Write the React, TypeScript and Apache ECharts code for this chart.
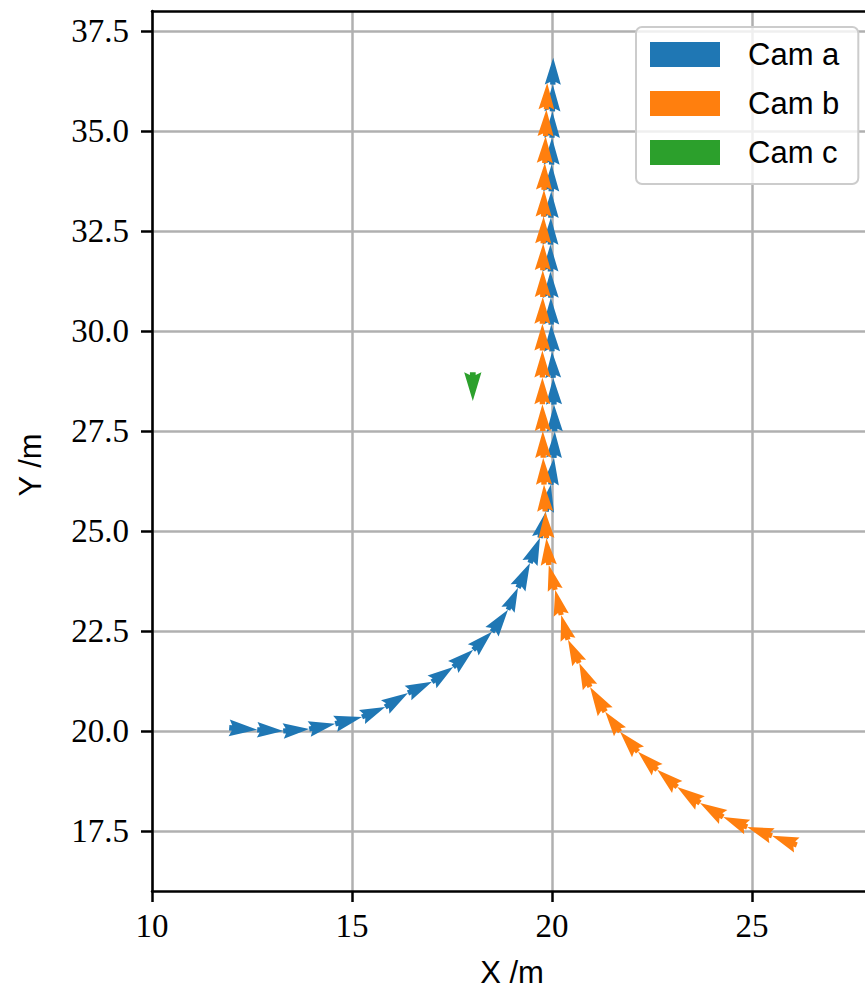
import React, { useEffect, useRef } from "react";
import * as echarts from "echarts";

// Camera trajectories: successive positions; each arrow runs from one position to the next.
const camAX = [11.93, 12.63, 13.28, 13.93, 14.58, 15.25, 15.83, 16.4, 17.0, 17.53, 18.03, 18.5, 18.9, 19.15, 19.45, 19.7, 19.85, 19.97, 20.05, 20.07, 20.05, 20.03, 20.0, 19.98, 19.97, 19.96, 19.96, 19.97, 19.98, 19.99, 20.0, 20.01, 20.02, 20.03];
const camAY = [20.08, 20.03, 20.0, 20.05, 20.18, 20.35, 20.6, 20.95, 21.23, 21.6, 22.03, 22.48, 23.03, 23.58, 24.2, 24.83, 25.49, 26.16, 26.83, 27.49, 28.16, 28.83, 29.49, 30.16, 30.83, 31.49, 32.16, 32.83, 33.49, 34.16, 34.83, 35.49, 36.16, 36.83];

const camBX = [26.12, 25.5, 24.88, 24.28, 23.7, 23.13, 22.63, 22.15, 21.7, 21.33, 20.95, 20.68, 20.4, 20.23, 20.08, 19.92, 19.86, 19.83, 19.8, 19.78, 19.77, 19.76, 19.76, 19.76, 19.76, 19.77, 19.77, 19.78, 19.79, 19.8, 19.82, 19.84, 19.86, 19.88];
const camBY = [17.15, 17.38, 17.6, 17.85, 18.2, 18.6, 19.03, 19.48, 19.98, 20.48, 21.1, 21.7, 22.28, 22.9, 23.53, 24.15, 24.82, 25.49, 26.16, 26.83, 27.5, 28.17, 28.84, 29.51, 30.18, 30.85, 31.52, 32.19, 32.86, 33.53, 34.2, 34.87, 35.54, 36.2];

const camCX = [18.02, 18.02];
const camCY = [28.97, 28.25];

const seriesNames = ["Cam a", "Cam b", "Cam c"];
const seriesColors = ["#1f77b4", "#ff7f0e", "#2ca02c"];

const xTicks = [10, 15, 20, 25];
const yTicks = [17.5, 20, 22.5, 25, 27.5, 30, 32.5, 35, 37.5];

const SERIF = "'Liberation Serif', 'DejaVu Serif', serif";
const SANS = "'Liberation Sans', 'DejaVu Sans', sans-serif";

// rows of [x0, y0, x1, y1]: tail and tip of each arrow
function arrowRows(xs: number[], ys: number[]) {
  const rows: number[][] = [];
  for (let i = 0; i < xs.length - 1; i++) rows.push([xs[i], ys[i], xs[i + 1], ys[i + 1]]);
  return rows;
}

// short quiver arrow: notched head with a small stub, scaled with its length
const ARROW_SHAPE = [
  [0, 0.5],
  [0.5, 0.5],
  [0, 1.5],
  [5, 0],
  [0, -1.5],
  [0.5, -0.5],
  [0, -0.5],
];

function renderArrow(_params: any, api: any) {
  const p0 = api.coord([api.value(0), api.value(1)]);
  const p1 = api.coord([api.value(2), api.value(3)]);
  const dx = p1[0] - p0[0];
  const dy = p1[1] - p0[1];
  const len = Math.hypot(dx, dy) || 1;
  const ux = dx / len;
  const uy = dy / len;
  const nx = -uy;
  const ny = ux;
  const s = len / 5;
  const points = ARROW_SHAPE.map(([a, b]) => [
    p0[0] + (a * ux + b * nx) * s,
    p0[1] + (a * uy + b * ny) * s,
  ]);
  return {
    type: "polygon",
    shape: { points },
    style: { fill: api.visual("color") },
  };
}

export default function App() {
  const ref = useRef<HTMLDivElement>(null);

  useEffect(() => {
    if (!ref.current) return;
    const chart = echarts.init(ref.current, undefined, { renderer: "svg" });
    const spine = { color: "#000", width: 2.5 };
    const gridLine = { color: "#b0b0b0", width: 2.5 };
    const tracks = [
      arrowRows(camAX, camAY),
      arrowRows(camBX, camBY),
      arrowRows(camCX, camCY),
    ];

    chart.setOption({
      animation: false,
      backgroundColor: "#fff",
      grid: { left: 152, top: 11, width: 713, height: 880 },
      xAxis: [
        {
          type: "value",
          min: 10,
          max: 27.825,
          position: "bottom",
          axisLine: { show: true, onZero: false, lineStyle: spine },
          axisTick: { show: true, length: 11, lineStyle: spine, customValues: xTicks },
          axisLabel: {
            customValues: xTicks,
            margin: 18,
            color: "#000",
            fontFamily: SERIF,
            fontSize: 33,
          },
          splitLine: { show: true, lineStyle: gridLine },
        },
        {
          type: "value",
          min: 10,
          max: 27.825,
          position: "top",
          axisLine: { show: true, onZero: false, lineStyle: spine },
          axisTick: { show: false },
          axisLabel: { show: false },
          splitLine: { show: false },
        },
      ],
      yAxis: {
        type: "value",
        min: 16,
        max: 38,
        axisLine: { show: true, onZero: false, lineStyle: spine },
        axisTick: { show: true, length: 11, lineStyle: spine, customValues: yTicks },
        axisLabel: {
          customValues: yTicks,
          margin: 23,
          color: "#000",
          fontFamily: SERIF,
          fontSize: 33,
          formatter: (v: number) => v.toFixed(1),
        },
        splitLine: { show: true, lineStyle: gridLine },
      },
      legend: {
        orient: "vertical",
        left: 636,
        top: 27,
        icon: "rect",
        itemWidth: 70,
        itemHeight: 25,
        itemGap: 18,
        padding: [12, 19, 16, 14],
        backgroundColor: "rgba(255,255,255,0.8)",
        borderColor: "#cccccc",
        borderWidth: 2,
        borderRadius: 6,
        data: seriesNames,
        textStyle: {
          color: "#000",
          fontFamily: SANS,
          fontSize: 31,
          lineHeight: 25,
          padding: [0, 0, 0, 23],
        },
      },
      graphic: [
        {
          type: "text",
          x: 512,
          y: 972,
          style: {
            text: "X /m",
            fill: "#000",
            font: `31px ${SANS}`,
            textAlign: "center",
            textVerticalAlign: "middle",
          },
        },
        {
          type: "text",
          x: 30,
          y: 465,
          rotation: Math.PI / 2,
          style: {
            text: "Y /m",
            fill: "#000",
            font: `31px ${SANS}`,
            textAlign: "center",
            textVerticalAlign: "middle",
          },
        },
      ],
      series: tracks.map((rows, i) => ({
        type: "custom",
        name: seriesNames[i],
        xAxisIndex: 0,
        yAxisIndex: 0,
        renderItem: renderArrow,
        encode: { x: [0, 2], y: [1, 3] },
        itemStyle: { color: seriesColors[i] },
        data: rows,
        clip: false,
      })),
    });

    return () => chart.dispose();
  }, []);

  return (
    <div
      ref={ref}
      style={{ position: "absolute", left: 0, top: 0, width: 865, height: 994, overflow: "hidden" }}
    />
  );
}
